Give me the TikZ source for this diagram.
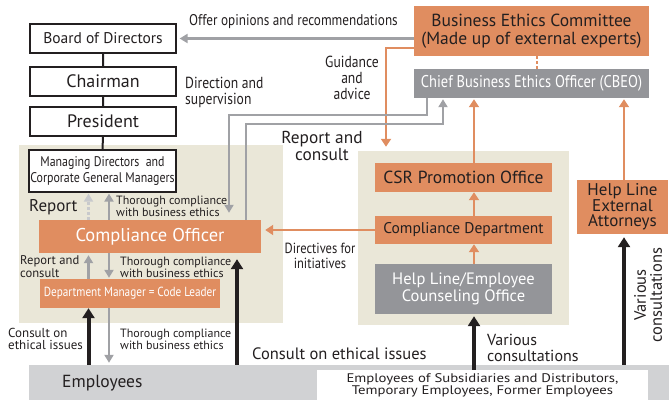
\documentclass[tikz,border=0pt]{standalone}
\usepackage{fontspec}
\setmainfont{PT Sans}
\newfontfamily\cond[FakeStretch=0.85]{PT Sans}
\newfontfamily\wide[FakeStretch=1.18]{PT Sans}
\usetikzlibrary{arrows.meta,calc}
\definecolor{orng}{RGB}{224,141,96}
\definecolor{cgray}{RGB}{148,149,153}
\definecolor{beige}{RGB}{234,231,216}
\definecolor{empgray}{RGB}{209,210,212}
\definecolor{arrgray}{RGB}{160,161,165}
\definecolor{lgray}{RGB}{200,201,204}
\definecolor{txt}{RGB}{35,31,32}
\newcommand{\fs}[2]{\fontsize{#1}{#2}\selectfont}
\begin{document}
\begin{tikzpicture}[x=1pt,y=-1pt,
  every node/.style={inner sep=0pt, text=txt},
  wbox/.style={draw=txt, line width=1.2pt, fill=white, minimum width=146pt, minimum height=29pt, align=center},
  obox/.style={fill=orng, align=center},
  gbox/.style={fill=cgray, text=white, align=center},
  panel/.style={fill=beige},
  garr/.style={draw=arrgray, line width=2.5pt, -{Triangle[length=8pt,width=9pt]}},
  oarr/.style={draw=orng, line width=2.5pt, -{Triangle[length=8pt,width=10pt]}},
  barr/.style={draw=txt, line width=4pt, -{Triangle[length=10pt,width=12pt]}},
  lbl/.style={align=left, anchor=west},
  clbl/.style={align=center}
]
\useasboundingbox (0,0) rectangle (669,400);
% panels
\node[panel, minimum width=264pt, minimum height=178pt] (LP) at (151,234) {};
\node[panel, minimum width=211pt, minimum height=174pt] (RP) at (463.5,238) {};
% bottom bar
\node[fill=empgray, minimum width=640pt, minimum height=35pt] (EMP) at (349,382.5) {};
\node[lbl, font=\fs{17.5}{18}] (lemp) at (62,383) {Employees};
\node[fill=white, minimum width=331pt, minimum height=30pt, align=center, font=\wide\fs{12.5}{11}] (SUB) at (482.5,385) {Employees of Subsidiaries and Distributors,\\Temporary Employees, Former Employees};
% left boxes
\node[wbox, font=\fs{15.5}{16}] (Board) at (103,38.5) {Board of Directors};
\node[wbox, font=\fs{18}{18}] (Chair) at (103,81.5) {Chairman};
\node[wbox, font=\fs{18}{18}] (Pres) at (103,121.5) {President};
\node[wbox, minimum width=147pt, minimum height=42pt, font=\cond\fs{14}{16}] (MD) at (102.5,171) {Managing Directors\ \ and\\Corporate General Managers};
\node[obox, text=white, minimum width=222pt, minimum height=33pt, font=\fs{18.5}{19}] (CO) at (150,236.5) {Compliance Officer};
\node[obox, text=white, minimum width=180pt, minimum height=29pt, font=\cond\fs{13.2}{14}] (DM) at (130,293.5) {Department Manager = Code Leader};
% right boxes
\node[obox, minimum width=235pt, minimum height=50pt, font=\fs{17.5}{17.5}] (BEC) at (531.5,31) {Business Ethics Committee\\(Made up of external experts)};
\node[gbox, minimum width=235pt, minimum height=29pt, font=\cond\fs{17}{17}] (CBEO) at (531.5,83.5) {Chief Business Ethics Officer (CBEO)};
\node[obox, minimum width=177pt, minimum height=29pt, font=\fs{17.5}{18}] (CSR) at (463.5,177.5) {CSR Promotion Office};
\node[obox, minimum width=177pt, minimum height=28pt, font=\fs{15.5}{16}] (CD) at (463.5,230) {Compliance Department};
\node[gbox, minimum width=177pt, minimum height=50pt, font=\fs{16.5}{16.5}] (HL) at (463.5,289) {Help Line/Employee\\Counseling Office};
\node[obox, minimum width=91pt, minimum height=54pt, font=\fs{17}{15.5}] (HLEA) at (622.5,207) {Help Line\\External\\Attorneys};
% helper coordinates
\coordinate (x88) at (88.5,0);
\coordinate (x109) at (109,0);
\coordinate (x237) at (237,0);
\coordinate (x474) at (474,0);
\coordinate (x624) at (624,0);
\coordinate (x537) at (537,0);
\coordinate (d1) at (427,115);
\coordinate (d2) at (229,115);
\coordinate (r1) at (246,124);
\coordinate (r2) at (443,124);
\coordinate (g1) at (386,48);
% connectors
\draw[txt, line width=2pt] (Board.south) -- (Chair.north) (Chair.south) -- (Pres.north) (Pres.south) -- (MD.north);
\draw[garr, shorten >=3pt] (Board.east -| BEC.west) -- (Board.east);
\draw[orng, line width=2.5pt, dash pattern=on 2.5pt off 2.5pt] (x537 |- BEC.south) -- (x537 |- CBEO.north);
\draw[oarr, shorten >=4pt] (g1 -| BEC.west) -- (g1) -- (g1 |- RP.north);
\draw[garr, shorten >=7pt] (d1 |- CBEO.south) -- (d1) -- (d2) -- (d2 |- CO.north);
\draw[garr, shorten >=1pt] (r1 |- CO.north) -- (r1) -- (r2) -- (r2 |- CBEO.south);
\draw[oarr, shorten >=1pt] (x474 |- CSR.north) -- (x474 |- CBEO.south);
\draw[oarr, shorten >=1pt] (x624 |- HLEA.north) -- (x624 |- CBEO.south);
\draw[oarr] (x474 |- CD.north) -- (x474 |- CSR.south);
\draw[oarr] (x474 |- HL.north) -- (x474 |- CD.south);
\draw[oarr, shorten >=4pt] (CD.west) -- (CD.west -| CO.east);
\draw[barr, shorten >=2pt] (x474 |- SUB.north) -- (x474 |- HL.south);
\draw[barr, shorten >=3pt] (x624 |- EMP.north) -- (x624 |- HLEA.south);
\draw[barr, shorten >=6pt] (x237 |- EMP.north) -- (x237 |- CO.south);
\draw[barr] (x88 |- EMP.north) -- (x88 |- DM.south);
\draw[garr, draw=lgray, dash pattern=on 3pt off 2pt, shorten >=1pt] (x88 |- CO.north) -- (x88 |- MD.south);
\draw[garr, shorten >=1pt] (x109 |- CO.north) -- (x109 |- MD.south);
\draw[garr, shorten >=2pt] (x88 |- DM.north) -- (x88 |- CO.south);
\draw[garr, shorten >=1pt] (x109 |- CO.south) -- (x109 |- DM.north);
\draw[garr, shorten >=2pt] (x109 |- DM.south) -- (x109 |- EMP.north);
% labels
\node[lbl, font=\cond\fs{15.5}{16}] (loffer) at (189,22) {Offer opinions and recommendations};
\node[clbl, font=\cond\fs{16}{16}] (lguid) at (352,78) {Guidance\\and\\advice};
\node[lbl, font=\cond\fs{16}{16}] (ldir) at (185,92) {Direction and\\supervision};
\node[clbl, font=\fs{17.3}{17}] (lrc) at (322,146) {Report and\\consult};
\node[lbl, font=\fs{17}{17}] (lrep) at (29,207) {Report};
\node[lbl, font=\fs{12}{11}] (lth1) at (116,206.5) {Thorough compliance\\with business ethics};
\node[lbl, font=\fs{12.6}{12.5}] (lrc2) at (20,266.5) {Report and\\consult};
\node[lbl, font=\fs{12}{11}] (lth2) at (120,267) {Thorough compliance\\with business ethics};
\node[lbl, font=\fs{13}{12.5}] (lcons) at (8,339) {Consult on\\ethical issues};
\node[lbl, font=\fs{12}{11}] (lth3) at (120,339) {Thorough compliance\\with business ethics};
\node[lbl, font=\fs{16.5}{16}] (lcons2) at (252,354) {Consult on ethical issues};
\node[clbl, font=\cond\fs{14.7}{15}] (ldirect) at (320,256) {Directives for\\initiatives};
\node[lbl, font=\fs{16}{16}] (lvar) at (487,348) {Various\\consultations};
\node[clbl, font=\fs{16.5}{16}, rotate=90] (lvar2) at (648,295) {Various\\consultations};
\end{tikzpicture}
\end{document}
